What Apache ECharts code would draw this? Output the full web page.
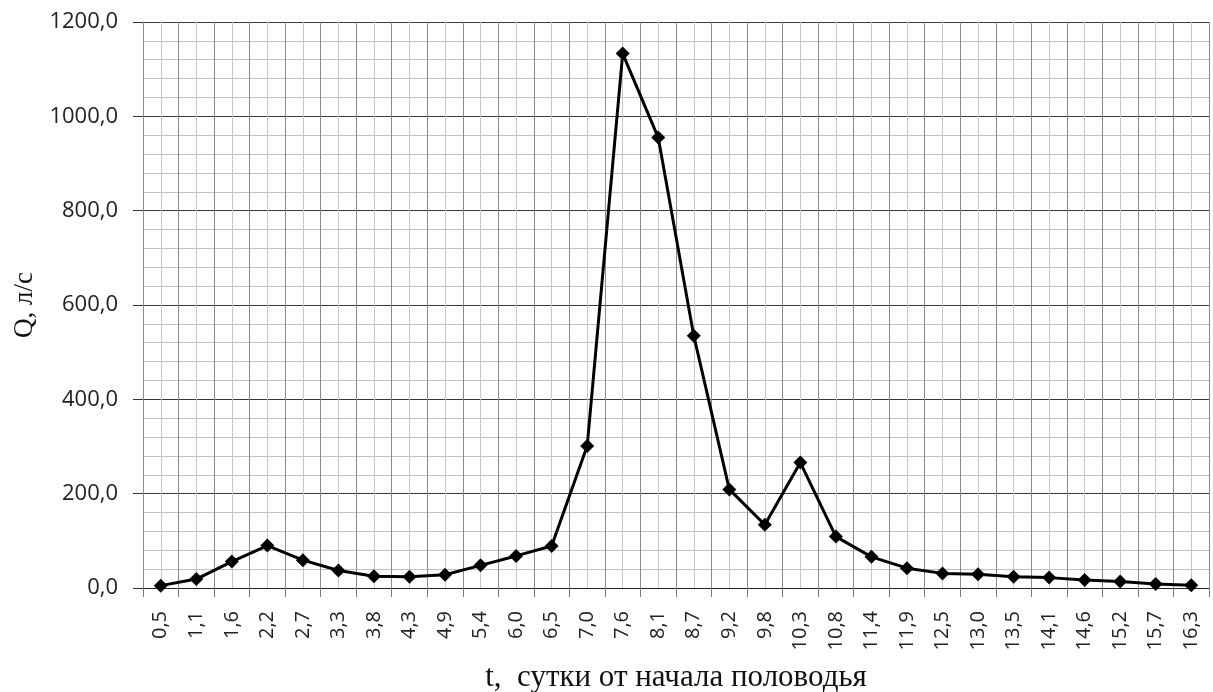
<!DOCTYPE html>
<html><head><meta charset="utf-8">
<script src="https://cdn.jsdelivr.net/npm/echarts@6/dist/echarts.min.js"></script>
<style>html,body{margin:0;padding:0;background:#fff}#c{width:1213px;height:692px}</style>
</head><body><div id="c"></div>
<script>
var categories = ['0,5','1,1','1,6','2,2','2,7','3,3','3,8','4,3','4,9','5,4','6,0','6,5','7,0','7,6','8,1','8,7','9,2','9,8','10,3','10,8','11,4','11,9','12,5','13,0','13,5','14,1','14,6','15,2','15,7','16,3'];
var qValues = [5,19,56,90,59,37,25,24,28,48,68,89,301,1133,955,535,209,134,266,109,66,42,31,29,24,22,17,14,8.5,6];
var yTicks = {min:0, max:1200, interval:200};
var yName = 'Q, л/с';
var xName = 't,  сутки от начала половодья';

var chart = echarts.init(document.getElementById('c'));
chart.setOption({
  animation:false,
  grid:{left:143, right:4, top:22, bottom:104, containLabel:false, outerBoundsMode:'none'},
  xAxis:[{
    type:'category', data:categories, boundaryGap:true, z:3,
    axisLine:{lineStyle:{color:'#222', width:1}},
    axisTick:{show:true, length:9, lineStyle:{color:'#777'}},
    axisLabel:{rotate:90, interval:0, fontFamily:'Open Sans', fontSize:20, color:'#222', margin:23},
    splitLine:{show:true, lineStyle:{color:'#8a8a8a', width:1}},
    name:xName, nameLocation:'middle', nameGap:74,
    nameTextStyle:{fontFamily:'Liberation Serif', fontSize:31, color:'#111'}
  },{
    type:'value', min:0, max:categories.length*2, interval:1, show:true, z:1,
    axisLine:{show:false}, axisTick:{show:false}, axisLabel:{show:false},
    splitLine:{show:true, lineStyle:{color:'#c8c8c8', width:1}}
  }],
  yAxis:{
    type:'value', min:yTicks.min, max:yTicks.max, interval:yTicks.interval,
    axisLine:{show:true, lineStyle:{color:'#888'}},
    axisTick:{show:true, length:10, lineStyle:{color:'#333'}},
    minorTick:{show:false, splitNumber:5},
    axisLabel:{formatter:function(v){return v.toFixed(1).replace('.',',');}, fontFamily:'Open Sans', fontSize:22, color:'#222', margin:25},
    splitLine:{show:true, lineStyle:{color:'#3a3a3a', width:1}},
    minorSplitLine:{show:true, lineStyle:{color:'#c0c0c0', width:1}},
    name:yName, nameLocation:'middle', nameGap:103,
    nameTextStyle:{fontFamily:'Liberation Serif', fontSize:27, color:'#111'}
  },
  series:[{
    type:'line', data:qValues, xAxisIndex:0,
    symbol:'diamond', symbolSize:14,
    lineStyle:{color:'#000', width:3},
    itemStyle:{color:'#000'}, z:5
  }]
});
</script></body></html>
